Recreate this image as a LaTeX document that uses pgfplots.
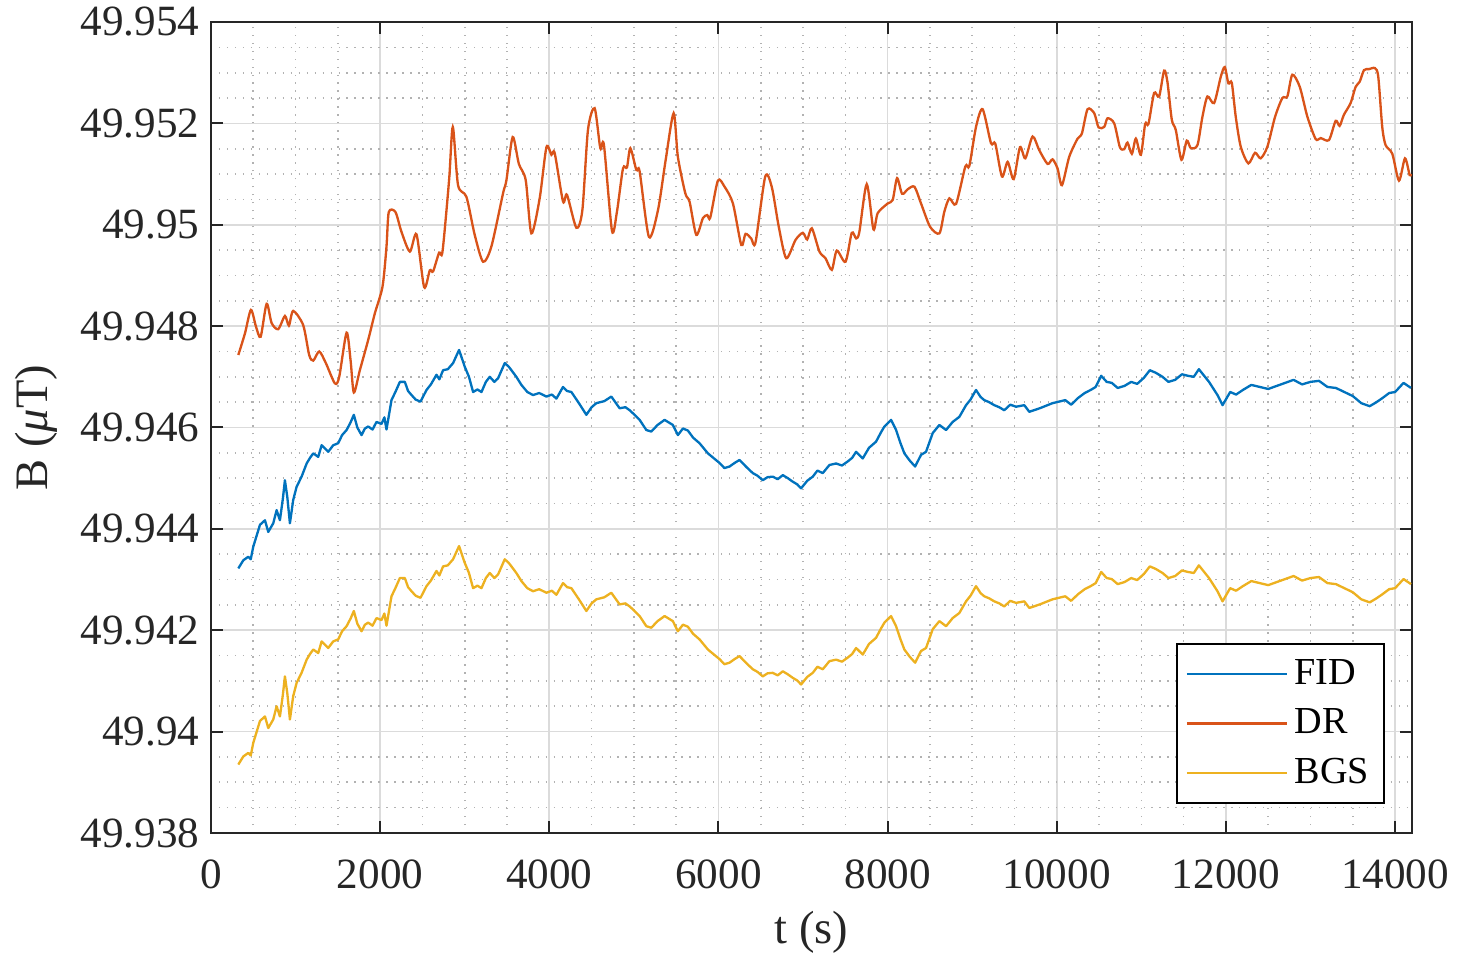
\documentclass[border=0pt]{standalone}
\usepackage{fontspec}
\setmainfont{Liberation Serif}
\usepackage{pgfplots}
\pgfplotsset{compat=1.18}
\definecolor{cfid}{RGB}{0,114,189}
\definecolor{cdr}{RGB}{217,83,25}
\definecolor{cbgs}{RGB}{237,177,32}

% t, FID, BGS
\pgfplotstableread{
t fid bgs
323 49.94322 49.93935
382 49.94338 49.93951
441 49.94345 49.93958
470 49.94340 49.93953
500 49.94365 49.93978
579 49.94408 49.94021
638 49.94417 49.94030
677 49.94394 49.94007
736 49.94411 49.94024
776 49.94437 49.94050
815 49.94417 49.94030
850 49.94460 49.94073
874 49.94496 49.94109
902 49.94463 49.94076
933 49.94411 49.94024
972 49.94457 49.94070
1012 49.94483 49.94096
1071 49.94503 49.94116
1131 49.94529 49.94142
1170 49.94540 49.94153
1209 49.94549 49.94162
1268 49.94542 49.94155
1308 49.94565 49.94178
1386 49.94552 49.94165
1445 49.94565 49.94178
1504 49.94569 49.94182
1550 49.94585 49.94198
1603 49.94595 49.94208
1650 49.94610 49.94223
1689 49.94625 49.94238
1730 49.94600 49.94213
1780 49.94585 49.94198
1820 49.94598 49.94211
1859 49.94602 49.94215
1910 49.94596 49.94209
1957 49.94611 49.94224
2016 49.94607 49.94220
2050 49.94620 49.94233
2075 49.94596 49.94209
2134 49.94654 49.94267
2180 49.94670 49.94283
2233 49.94690 49.94303
2292 49.94690 49.94303
2330 49.94672 49.94285
2371 49.94664 49.94277
2420 49.94655 49.94268
2477 49.94651 49.94264
2548 49.94674 49.94287
2600 49.94685 49.94298
2666 49.94704 49.94317
2700 49.94695 49.94308
2744 49.94713 49.94326
2800 49.94715 49.94328
2862 49.94727 49.94340
2933 49.94753 49.94366
3000 49.94720 49.94333
3050 49.94700 49.94313
3099 49.94670 49.94283
3150 49.94675 49.94288
3198 49.94670 49.94283
3250 49.94690 49.94303
3296 49.94700 49.94313
3350 49.94690 49.94303
3394 49.94697 49.94310
3473 49.94727 49.94340
3520 49.94720 49.94333
3552 49.94713 49.94326
3610 49.94700 49.94313
3670 49.94684 49.94297
3740 49.94670 49.94283
3808 49.94664 49.94277
3880 49.94668 49.94281
3966 49.94661 49.94274
4030 49.94665 49.94278
4084 49.94657 49.94270
4162 49.94680 49.94293
4210 49.94672 49.94285
4261 49.94670 49.94283
4350 49.94648 49.94261
4438 49.94625 49.94238
4500 49.94640 49.94253
4556 49.94648 49.94261
4650 49.94652 49.94265
4733 49.94661 49.94274
4780 49.94650 49.94263
4831 49.94638 49.94251
4900 49.94640 49.94253
4950 49.94634 49.94247
4989 49.94628 49.94241
5068 49.94615 49.94228
5147 49.94595 49.94208
5206 49.94592 49.94205
5280 49.94605 49.94218
5363 49.94615 49.94228
5461 49.94605 49.94218
5520 49.94585 49.94198
5580 49.94598 49.94211
5638 49.94594 49.94207
5700 49.94580 49.94193
5776 49.94569 49.94182
5875 49.94549 49.94162
5940 49.94540 49.94153
6013 49.94530 49.94143
6070 49.94520 49.94133
6131 49.94523 49.94136
6190 49.94530 49.94143
6249 49.94536 49.94149
6330 49.94522 49.94135
6406 49.94510 49.94123
6460 49.94505 49.94118
6524 49.94496 49.94109
6580 49.94502 49.94115
6642 49.94503 49.94116
6700 49.94498 49.94111
6761 49.94506 49.94119
6820 49.94500 49.94113
6879 49.94493 49.94106
6930 49.94488 49.94101
6977 49.94480 49.94093
7050 49.94495 49.94108
7115 49.94503 49.94116
7170 49.94515 49.94128
7233 49.94510 49.94123
7312 49.94526 49.94139
7391 49.94529 49.94142
7460 49.94525 49.94138
7528 49.94533 49.94146
7580 49.94540 49.94153
7627 49.94552 49.94165
7706 49.94539 49.94152
7780 49.94560 49.94173
7863 49.94572 49.94185
7920 49.94590 49.94203
7962 49.94602 49.94215
8041 49.94615 49.94228
8100 49.94595 49.94208
8150 49.94570 49.94183
8198 49.94549 49.94162
8260 49.94535 49.94148
8325 49.94523 49.94136
8395 49.94546 49.94159
8454 49.94552 49.94165
8533 49.94589 49.94202
8612 49.94605 49.94218
8691 49.94595 49.94208
8769 49.94611 49.94224
8848 49.94621 49.94234
8927 49.94644 49.94257
8980 49.94655 49.94268
9045 49.94674 49.94287
9100 49.94660 49.94273
9143 49.94654 49.94267
9200 49.94650 49.94263
9261 49.94644 49.94257
9320 49.94640 49.94253
9379 49.94634 49.94247
9450 49.94645 49.94258
9518 49.94641 49.94254
9616 49.94644 49.94257
9675 49.94631 49.94244
9800 49.94638 49.94251
9950 49.94648 49.94261
10100 49.94654 49.94267
10170 49.94645 49.94258
10250 49.94658 49.94271
10330 49.94668 49.94281
10400 49.94674 49.94287
10460 49.94680 49.94293
10525 49.94702 49.94315
10590 49.94690 49.94303
10650 49.94688 49.94301
10720 49.94678 49.94291
10800 49.94682 49.94295
10880 49.94690 49.94303
10950 49.94686 49.94299
11030 49.94698 49.94311
11100 49.94713 49.94326
11170 49.94708 49.94321
11250 49.94700 49.94313
11320 49.94690 49.94303
11400 49.94694 49.94307
11480 49.94705 49.94318
11550 49.94702 49.94315
11620 49.94700 49.94313
11680 49.94715 49.94328
11800 49.94690 49.94303
11900 49.94664 49.94277
11960 49.94644 49.94257
12050 49.94670 49.94283
12120 49.94665 49.94278
12200 49.94674 49.94287
12300 49.94684 49.94297
12400 49.94680 49.94293
12500 49.94676 49.94289
12600 49.94682 49.94295
12700 49.94688 49.94301
12800 49.94694 49.94307
12900 49.94685 49.94298
13000 49.94690 49.94303
13100 49.94692 49.94305
13200 49.94680 49.94293
13300 49.94678 49.94291
13400 49.94670 49.94283
13500 49.94662 49.94275
13600 49.94648 49.94261
13700 49.94642 49.94255
13780 49.94650 49.94263
13850 49.94658 49.94271
13930 49.94668 49.94281
14000 49.94670 49.94283
14100 49.94688 49.94301
14188 49.94678 49.94291
}\fidbgs

\pgfplotstableread{
t dr
323 49.94743
402 49.94786
472 49.94832
532 49.94799
587 49.94779
658 49.94844
717 49.94806
795 49.94794
874 49.94820
921 49.94801
972 49.94830
1090 49.94802
1161 49.94743
1209 49.94732
1280 49.94750
1358 49.94727
1465 49.94687
1516 49.94700
1603 49.94787
1650 49.94733
1689 49.94669
1760 49.94713
1859 49.94773
1937 49.94825
2028 49.94878
2075 49.94957
2102 49.95025
2181 49.95025
2252 49.94986
2351 49.94947
2430 49.94981
2520 49.94877
2587 49.94910
2626 49.94908
2697 49.94945
2737 49.94947
2815 49.95088
2859 49.95193
2921 49.95078
3020 49.95055
3118 49.94980
3217 49.94927
3315 49.94957
3453 49.95062
3493 49.95088
3567 49.95173
3640 49.95120
3721 49.95088
3788 49.94983
3886 49.95052
3966 49.95153
4025 49.95138
4064 49.95141
4162 49.95046
4209 49.95059
4320 49.94994
4391 49.95029
4457 49.95187
4536 49.95230
4603 49.95151
4646 49.95157
4741 49.94988
4800 49.95026
4871 49.95111
4918 49.95113
4958 49.95151
5029 49.95108
5068 49.95105
5178 49.94976
5285 49.95029
5376 49.95128
5470 49.95220
5520 49.95134
5608 49.95062
5659 49.95045
5738 49.94980
5816 49.95013
5868 49.95019
5903 49.95014
5993 49.95087
6072 49.95075
6171 49.95042
6270 49.94960
6320 49.94982
6387 49.94973
6438 49.94965
6553 49.95095
6631 49.95074
6713 49.94996
6801 49.94934
6911 49.94970
6997 49.94984
7049 49.94971
7104 49.94993
7194 49.94947
7265 49.94934
7340 49.94911
7399 49.94949
7502 49.94927
7576 49.94984
7628 49.94973
7666 49.94986
7753 49.95080
7832 49.94991
7883 49.95023
8001 49.95042
8060 49.95049
8112 49.95092
8171 49.95061
8238 49.95070
8317 49.95075
8395 49.95042
8502 49.94996
8612 49.94983
8671 49.95026
8730 49.95052
8809 49.95041
8919 49.95115
8966 49.95116
9045 49.95193
9123 49.95228
9222 49.95161
9273 49.95160
9352 49.95095
9419 49.95124
9490 49.95090
9565 49.95153
9628 49.95131
9714 49.95174
9793 49.95147
9891 49.95120
9950 49.95129
10009 49.95111
10061 49.95078
10147 49.95134
10246 49.95170
10297 49.95180
10364 49.95228
10443 49.95220
10494 49.95192
10561 49.95193
10600 49.95210
10679 49.95200
10746 49.95153
10797 49.95149
10836 49.95162
10888 49.95140
10935 49.95170
10994 49.95138
11045 49.95199
11084 49.95199
11151 49.95260
11210 49.95253
11269 49.95304
11308 49.95282
11360 49.95207
11407 49.95187
11474 49.95128
11537 49.95166
11585 49.95151
11663 49.95157
11722 49.95213
11781 49.95253
11860 49.95240
11939 49.95292
11986 49.95311
12029 49.95279
12069 49.95280
12116 49.95213
12175 49.95154
12265 49.95121
12344 49.95142
12411 49.95131
12490 49.95154
12581 49.95213
12667 49.95250
12726 49.95253
12785 49.95296
12873 49.95272
12963 49.95213
13061 49.95169
13120 49.95171
13218 49.95167
13297 49.95205
13344 49.95195
13395 49.95217
13474 49.95240
13533 49.95272
13581 49.95282
13632 49.95305
13691 49.95307
13762 49.95309
13801 49.95292
13848 49.95193
13888 49.95157
13967 49.95140
14046 49.95087
14117 49.95131
14172 49.95098
14188 49.95100
}\drtab

\begin{document}
\begin{tikzpicture}
\begin{axis}[name=ax,
  scale only axis, width=360.3bp, height=243.3bp,
  xmin=0, xmax=14200, ymin=49.938, ymax=49.954,
  scaled x ticks=false, scaled y ticks=false,
  xtick={0,2000,4000,6000,8000,10000,12000,14000},
  xticklabels={0,2000,4000,6000,8000,10000,12000,14000},
  ytick={49.938,49.94,49.942,49.944,49.946,49.948,49.95,49.952,49.954},
  yticklabels={49.938,49.94,49.942,49.944,49.946,49.948,49.95,49.952,49.954},
  minor tick num=3, grid=both,
  major grid style={solid, line width=0.5pt, black!14},
  minor grid style={dotted, line width=0.5pt, black!30},
  tick align=inside, tick pos=both,
  major tick length=3.6bp, minor tick length=0pt,
  axis line style={black!85, line width=0.6pt},
  every tick/.style={black!85, line width=0.6pt},
  ticklabel style={font=\fontsize{13}{15}\selectfont, black!85},
  xticklabel style={yshift=-4.5bp},
  label style={font=\fontsize{14}{16}\selectfont, black!85},
  xlabel={t (s)}, ylabel={B (\textit{μ}T)},
  legend cell align=left,
  legend style={at={(0.9775,0.0358)}, anchor=south east, draw=black, line width=0.6pt,
    fill=white, font=\fontsize{11.5}{13.5}\selectfont, inner xsep=2.5bp, inner ysep=2.5bp,
    row sep=1.8bp, /tikz/every even column/.append style={column sep=2bp}},
  legend image code/.code={\draw[#1, line width=0.7pt] (0bp,0bp) -- (30bp,0bp);},
]
\addplot[cfid, line width=0.7pt, line join=round] table[x=t, y=fid] {\fidbgs};
\addlegendentry{FID}
\addplot[cdr, line width=0.7pt, smooth, tension=0.45] table[x=t, y=dr] {\drtab};
\addlegendentry{DR}
\addplot[cbgs, line width=0.7pt, line join=round] table[x=t, y=bgs] {\fidbgs};
\addlegendentry{BGS}
\end{axis}
\pgfresetboundingbox
\path ([shift={(-63.3bp,-36.9bp)}]ax.south west) rectangle ([shift={(20.7bp,6.6bp)}]ax.north east);
\end{tikzpicture}
\end{document}
